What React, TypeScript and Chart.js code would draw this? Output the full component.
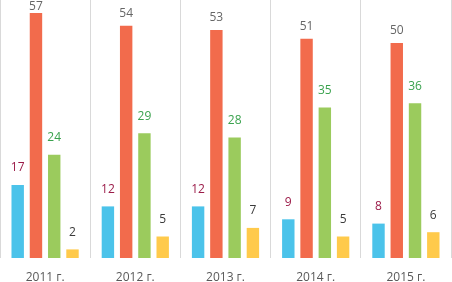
import React, { useEffect, useRef } from "react";
import { Chart, registerables } from "chart.js";

Chart.register(...registerables);

const categories = ["2011 г.", "2012 г.", "2013 г.", "2014 г.", "2015 г."];
const blueValues = [17, 12, 12, 9, 8];
const redValues = [57, 54, 53, 51, 50];
const greenValues = [24, 29, 28, 35, 36];
const yellowValues = [2, 5, 7, 5, 6];

const FONT = '"Open Sans", "DejaVu Sans", sans-serif';

const labelColors = ["#9B1B48", "#666666", "#3AA24E", "#3A3A3A"];
const labelOffsets = [17, 12.5, 17, 17];

const labelPlugin = {
  id: "barLabels",
  afterDatasetsDraw(chart: any) {
    const ctx = chart.ctx;
    ctx.save();
    ctx.font = `12px ${FONT}`;
    ctx.textAlign = "center";
    ctx.textBaseline = "middle";
    chart.data.datasets.forEach((ds: any, di: number) => {
      const meta = chart.getDatasetMeta(di);
      meta.data.forEach((el: any, i: number) => {
        const v = ds.data[i];
        let y = el.y - labelOffsets[di];
        if (y < 7) y = 7;
        ctx.fillStyle = labelColors[di];
        ctx.fillText(String(v), el.x, y);
      });
    });
    ctx.restore();
  },
};

export default function App() {
  const ref = useRef<HTMLCanvasElement | null>(null);
  useEffect(() => {
    document.body.style.margin = "0";
    const canvas = ref.current!;
    const chart = new Chart(canvas, {
      type: "bar",
      data: {
        labels: categories,
        datasets: [
          { data: blueValues, backgroundColor: "#4BC3EA" },
          { data: redValues, backgroundColor: "#F26B4C" },
          { data: greenValues, backgroundColor: "#9BCB5D" },
          { data: yellowValues, backgroundColor: "#FFCA4B" },
        ].map((d) => ({
          ...d,
          categoryPercentage: 0.81,
          barPercentage: 0.68,
          borderWidth: 0,
        })),
      },
      options: {
        responsive: false,
        animation: false,
        layout: { padding: { left: 0, right: 1, top: 0, bottom: 0 } },
        plugins: {
          legend: { display: false },
          tooltip: { enabled: false },
        },
        scales: {
          x: {
            grid: {
              display: true,
              color: "#D9D9D9",
              offset: true,
              drawTicks: false,
            },
            border: { display: false },
            ticks: {
              color: "#595959",
              font: { family: FONT, size: 12 },
              padding: 12.5,
            },
            afterFit: (scale: any) => {
              scale.height = 24;
            },
          },
          y: {
            display: false,
            min: 0,
            max: 60,
          },
        },
      },
      plugins: [labelPlugin],
    });
    return () => chart.destroy();
  }, []);
  return (
    <div style={{ position: "absolute", left: 0, top: 0, width: 452, height: 282, background: "#fff" }}>
      <canvas ref={ref} width={452} height={282} />
    </div>
  );
}
